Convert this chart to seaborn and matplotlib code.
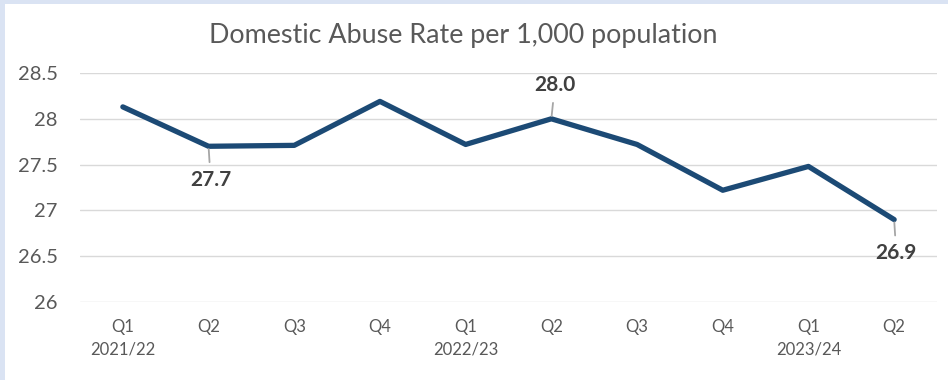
import matplotlib
matplotlib.use("Agg")
import matplotlib.pyplot as plt
import seaborn as sns
import pandas as pd
from matplotlib.patches import Rectangle

quarters = ["Q1", "Q2", "Q3", "Q4", "Q1", "Q2", "Q3", "Q4", "Q1", "Q2"]
years = ["2021/22", "", "", "", "2022/23", "", "", "", "2023/24", ""]
rates = [28.13, 27.7, 27.71, 28.19, 27.72, 28.0, 27.72, 27.22, 27.48, 26.9]
# points that carry a value label: index -> label placed below the line?
labelled = {1: True, 5: False, 9: True}

sns.set_theme(style="white")
plt.rcParams["font.family"] = ["Lato", "DejaVu Sans"]

df = pd.DataFrame({"pos": range(len(rates)), "rate": rates})

W, H = 948, 380
fig = plt.figure(figsize=(W / 100, H / 100), dpi=100)
fig.patch.set_facecolor("#dae3f3")
fig.patches.append(Rectangle((5 / W, 0), 1 - 5 / W, 1 - 4 / H,
                             transform=fig.transFigure, facecolor="white",
                             edgecolor="none", zorder=-1))

ax = fig.add_axes([80 / W, 78 / H, 857 / W, 229 / H])
ax.set_facecolor("none")

line_color = "#1c4a75"
sns.lineplot(data=df, x="pos", y="rate", ax=ax, color=line_color,
             linewidth=3.8, zorder=3)

ax.set_xlim(-0.5, len(rates) - 0.5)
ax.set_ylim(26, 28.5)
ax.set_yticks([26, 26.5, 27, 27.5, 28, 28.5])
ax.set_yticklabels(["26", "26.5", "27", "27.5", "28", "28.5"])
ax.yaxis.grid(True, color="#d9d9d9", linewidth=1.0)
ax.xaxis.grid(False)
for s in ax.spines.values():
    s.set_visible(False)
ax.tick_params(axis="y", length=0, pad=16, labelsize=14.5, labelcolor="#595959")
ax.set_xticks(range(len(rates)))
ax.set_xticklabels([f"{q}\n{y}" if y else q for q, y in zip(quarters, years)],
                   linespacing=1.55)
ax.tick_params(axis="x", length=0, pad=12, labelsize=12, labelcolor="#595959")
for lbl in ax.get_xticklabels():
    lbl.set_verticalalignment("top")
ax.set_xlabel("")
ax.set_ylabel("")

for i, below in labelled.items():
    v = rates[i]
    off = -24 if below else 24
    ax.annotate(f"{v:.1f}", xy=(i, v),
                xytext=(1.5 if below else 2.5, off), textcoords="offset points",
                ha="center", va="center", fontsize=15, fontweight="bold",
                color="#404040",
                arrowprops=dict(arrowstyle="-", color="#a6a6a6", lw=1.3,
                                shrinkA=3, shrinkB=2),
                zorder=4)

fig.text(463 / W, 1 - 36 / H, "Domestic Abuse Rate per 1,000 population",
         ha="center", va="center", fontsize=19.4, color="#595959")

fig.savefig("out.png", dpi=100, facecolor=fig.get_facecolor())
